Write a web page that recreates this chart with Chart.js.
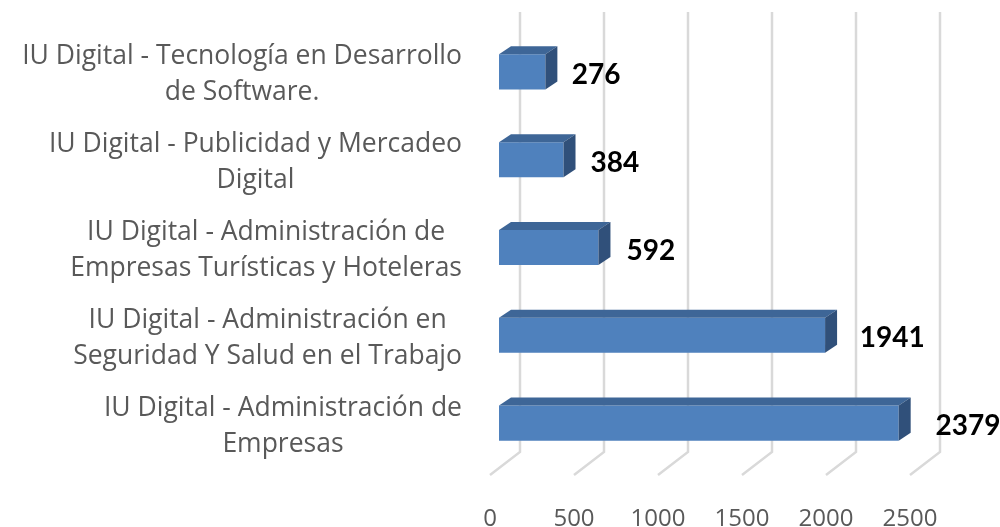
<!DOCTYPE html>
<html>
<head>
<meta charset="utf-8">
<script src="https://cdn.jsdelivr.net/npm/chart.js@4"></script>
<style>
  html, body { margin: 0; padding: 0; background: #fff; }
  #wrap { width: 1000px; height: 527px; }
</style>
</head>
<body>
<div id="wrap"><canvas id="chart" width="1000" height="527"></canvas></div>
<script>
// data
const categories = [
    ['IU Digital - Tecnología en Desarrollo', 'de Software.'],
    ['IU Digital - Publicidad y Mercadeo', 'Digital'],
    ['IU Digital - Administración de', 'Empresas Turísticas y Hoteleras'],
    ['IU Digital - Administración en', 'Seguridad Y Salud en el Trabajo'],
    ['IU Digital - Administración de', 'Empresas']
];
const values = [276, 384, 592, 1941, 2379];
const xTicks = [0, 500, 1000, 1500, 2000, 2500];

const TEXT_GREY = '#595959';
const GRID_GREY = '#d9d9d9';
const BAR_FRONT = '#4f81bd';
const BAR_TOP = '#3e6697';
const BAR_SIDE = '#30507a';

// fake 3D: depth offsets for the bars and the floor
const barDepth = { dx: 12, dy: 8 };
const wall = { back: 21, front: -9, top: 12, floorBack: 452, floorFront: 475 };

const fake3d = {
    id: 'fake3d',
    beforeDatasetsDraw(chart) {
        const ctx = chart.ctx;
        const xScale = chart.scales.x;
        ctx.save();
        ctx.strokeStyle = GRID_GREY;
        ctx.lineWidth = 2.5;
        xTicks.forEach(v => {
            const px = xScale.getPixelForValue(v);
            ctx.beginPath();
            ctx.moveTo(px + wall.back, wall.top);
            ctx.lineTo(px + wall.back, wall.floorBack);
            ctx.lineTo(px + wall.front, wall.floorFront);
            ctx.stroke();
        });

        // x axis tick labels on the front edge of the floor
        ctx.fillStyle = TEXT_GREY;
        ctx.font = '24px "Open Sans"';
        ctx.textAlign = 'center';
        ctx.textBaseline = 'middle';
        xTicks.forEach(v => {
            const px = xScale.getPixelForValue(v);
            ctx.fillText(String(v), px + wall.front, 519);
        });

        // category labels, each block centred on itself, right edge near the plot
        const yScale = chart.scales.y;
        const rightEdge = 462;
        const lineH = 36;
        ctx.font = '26.5px "Open Sans"';
        categories.forEach((lines, i) => {
            const cy = yScale.getPixelForTick(i) + 3;
            const w = Math.max(...lines.map(l => ctx.measureText(l).width));
            const cx = rightEdge - w / 2;
            lines.forEach((l, j) => {
                ctx.fillText(l, cx, cy + (j - (lines.length - 1) / 2) * lineH);
            });
        });
        ctx.restore();
    },
    afterDatasetsDraw(chart) {
        const ctx = chart.ctx;
        const meta = chart.getDatasetMeta(0);
        ctx.save();
        meta.data.forEach((bar, i) => {
            const { x, y, base, height } = bar.getProps(['x', 'y', 'base', 'height'], true);
            const top = y - height / 2;
            const bottom = y + height / 2;
            const { dx, dy } = barDepth;

            ctx.fillStyle = BAR_TOP;
            ctx.beginPath();
            ctx.moveTo(base, top);
            ctx.lineTo(base + dx, top - dy);
            ctx.lineTo(x + dx, top - dy);
            ctx.lineTo(x, top);
            ctx.closePath();
            ctx.fill();

            ctx.fillStyle = BAR_SIDE;
            ctx.beginPath();
            ctx.moveTo(x, top);
            ctx.lineTo(x + dx, top - dy);
            ctx.lineTo(x + dx, bottom - dy);
            ctx.lineTo(x, bottom);
            ctx.closePath();
            ctx.fill();

            // value label
            ctx.fillStyle = '#000';
            ctx.font = 'bold 28px Lato';
            ctx.textAlign = 'left';
            ctx.textBaseline = 'middle';
            ctx.fillText(String(values[i]), x + 25 + values[i] / 200, y + 3);
        });
        ctx.restore();
    }
};

new Chart(document.getElementById('chart'), {
    type: 'bar',
    data: {
        labels: categories,
        datasets: [{
            data: values,
            backgroundColor: BAR_FRONT,
            borderWidth: 0,
            barPercentage: 0.4,
            categoryPercentage: 1
        }]
    },
    options: {
        indexAxis: 'y',
        responsive: false,
        animation: false,
        layout: { padding: { left: 499, right: 81, top: 28, bottom: 60 } },
        plugins: { legend: { display: false }, tooltip: { enabled: false } },
        scales: {
            x: { min: 0, max: 2500, display: false },
            y: { display: false }
        }
    },
    plugins: [fake3d]
});
</script>
</body>
</html>
